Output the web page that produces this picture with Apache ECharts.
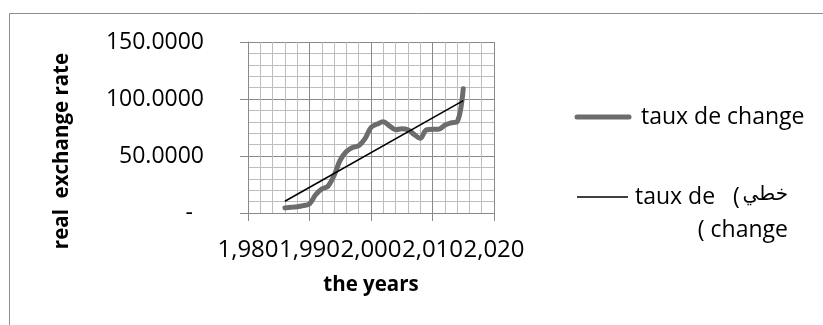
<!DOCTYPE html>
<html>
<head>
<meta charset="utf-8">
<script src="https://cdn.jsdelivr.net/npm/echarts@6/dist/echarts.min.js"></script>
<style>
  html, body { margin: 0; padding: 0; background: #fff; }
  #chart { width: 823px; height: 325px; }
</style>
</head>
<body>
<div id="chart"></div>
<script>
// Yearly real exchange rate
const years = [1986, 1987, 1988, 1989, 1990, 1991, 1992, 1993, 1994, 1995,
               1996, 1997, 1998, 1999, 2000, 2001, 2002, 2003, 2004, 2005,
               2006, 2007, 2008, 2009, 2010, 2011, 2012, 2013, 2014, 2015];
const rate = [4.5, 5, 5.5, 6.5, 8, 16, 21, 23.5, 33, 46.5,
              54, 57.5, 59, 65, 75, 78, 80, 76.5, 73, 74,
              73, 69, 65.5, 73, 73.5, 73.5, 77, 79, 80, 109];

// Axis ticks and their printed labels
const xTickValues = [1980, 1990, 2000, 2010, 2020];
const xTickLabels = ['1,980', '1,990', '2,000', '2,010', '2,020'];
const yTickValues = [0, 50, 100, 150];
const yTickLabels = ['-', '50.0000', '100.0000', '150.0000'];

// Series names
const seriesName = 'taux de change';
const trendName = 'خطي (taux de change)';

// Least-squares linear trend over the same points
function linearFit(xs, ys) {
  const n = xs.length;
  let sx = 0, sy = 0, sxx = 0, sxy = 0;
  for (let i = 0; i < n; i++) {
    sx += xs[i]; sy += ys[i];
    sxx += xs[i] * xs[i]; sxy += xs[i] * ys[i];
  }
  const slope = (n * sxy - sx * sy) / (n * sxx - sx * sx);
  const intercept = (sy - slope * sx) / n;
  return x => intercept + slope * x;
}
const fit = linearFit(years, rate);
const x0 = years[0], x1 = years[years.length - 1];
const trendData = [[x0, fit(x0)], [x1, fit(x1)]];
const rateData = years.map((y, i) => [y, rate[i]]);

const FONT = 'Open Sans';
const MAJOR = '#898989';
const MINOR = '#bdbdbd';
const LINE_GRAY = '#6c6c6c';

const chart = echarts.init(document.getElementById('chart'), null, { renderer: 'canvas' });

chart.setOption({
  animation: false,
  backgroundColor: '#fff',
  grid: { left: 248, top: 42, right: 329, bottom: 112, containLabel: false },
  xAxis: {
    type: 'value',
    min: 1980, max: 2020, interval: 10,
    name: 'the years',
    nameLocation: 'middle',
    nameGap: 62,
    nameTextStyle: { fontFamily: FONT, fontWeight: 'bold', fontSize: 20.5, color: '#000' },
    axisLine: { show: true, lineStyle: { color: MAJOR, width: 1 } },
    axisTick: { show: true, inside: false, length: 8, lineStyle: { color: MAJOR } },
    axisLabel: {
      margin: 25,
      fontFamily: FONT, fontSize: 24, color: '#000',
      formatter: v => xTickLabels[xTickValues.indexOf(v)]
    },
    splitLine: { show: true, lineStyle: { color: MAJOR, width: 1 } },
    minorTick: { show: false, splitNumber: 5 },
    minorSplitLine: { show: true, lineStyle: { color: MINOR, width: 1 } }
  },
  yAxis: {
    type: 'value',
    min: 0, max: 150, interval: 50,
    axisLine: { show: true, lineStyle: { color: MAJOR, width: 1 } },
    axisTick: { show: true, inside: false, length: 8, lineStyle: { color: MAJOR } },
    axisLabel: {
      margin: 44,
      fontFamily: FONT, fontSize: 23, color: '#000',
      formatter: v => {
        const s = yTickLabels[yTickValues.indexOf(v)];
        return v === 0 ? '{dash|' + s + '}' : s;
      },
      rich: { dash: { fontFamily: FONT, fontSize: 23, color: '#000', padding: [0, 11, 0, 0] } }
    },
    splitLine: { show: true, lineStyle: { color: MAJOR, width: 1 } },
    minorTick: { show: false, splitNumber: 5 },
    minorSplitLine: { show: true, lineStyle: { color: MINOR, width: 1 } }
  },
  series: [
    {
      name: seriesName,
      type: 'line',
      data: rateData,
      smooth: 0.35,
      showSymbol: false,
      symbol: 'none',
      lineStyle: { color: LINE_GRAY, width: 5, cap: 'round', join: 'round' },
      z: 3
    },
    {
      name: trendName,
      type: 'line',
      data: trendData,
      showSymbol: false,
      symbol: 'none',
      lineStyle: { color: '#000', width: 1.6 },
      z: 4
    }
  ],
  graphic: [
    // chart-area frame
    {
      type: 'rect', silent: true,
      shape: { x: 9.5, y: 13.5, width: 900, height: 400 },
      style: { fill: 'none', stroke: '#8e8e8e', lineWidth: 1 }
    },
    // vertical axis title
    {
      type: 'text', x: 62, y: 151, rotation: Math.PI / 2,
      style: {
        text: 'real  exchange rate', x: 0, y: 0,
        font: 'bold 20.5px "' + FONT + '"', fill: '#000',
        textAlign: 'center', textVerticalAlign: 'middle',
        align: 'center', verticalAlign: 'middle'
      }
    },
    // legend: data series
    {
      type: 'line', silent: true,
      shape: { x1: 577, y1: 117, x2: 629, y2: 117 },
      style: { stroke: LINE_GRAY, lineWidth: 5, lineCap: 'round' }
    },
    {
      type: 'text',
      style: {
        text: seriesName, x: 641, y: 117,
        font: '23px "' + FONT + '"', fill: '#000',
        textVerticalAlign: 'middle', verticalAlign: 'middle'
      }
    },
    // legend: linear trend
    {
      type: 'line', silent: true,
      shape: { x1: 577, y1: 197, x2: 628, y2: 197 },
      style: { stroke: '#000', lineWidth: 1.6 }
    },
    {
      type: 'text',
      style: {
        text: 'taux de', x: 635, y: 197,
        font: '23px "' + FONT + '"', fill: '#000',
        textVerticalAlign: 'middle', verticalAlign: 'middle'
      }
    },
    {
      type: 'text',
      style: {
        text: '(', x: 733, y: 197,
        font: '23px "' + FONT + '"', fill: '#000',
        textVerticalAlign: 'middle', verticalAlign: 'middle'
      }
    },
    {
      type: 'text',
      style: {
        text: 'خطي', x: 788, y: 195,
        font: '20px "DejaVu Sans"', fill: '#000',
        textAlign: 'right', align: 'right',
        textVerticalAlign: 'middle', verticalAlign: 'middle'
      }
    },
    {
      type: 'text',
      style: {
        text: '( change', x: 788, y: 230,
        font: '23px "' + FONT + '"', fill: '#000',
        textAlign: 'right', align: 'right',
        textVerticalAlign: 'middle', verticalAlign: 'middle'
      }
    }
  ]
});
</script>
</body>
</html>
